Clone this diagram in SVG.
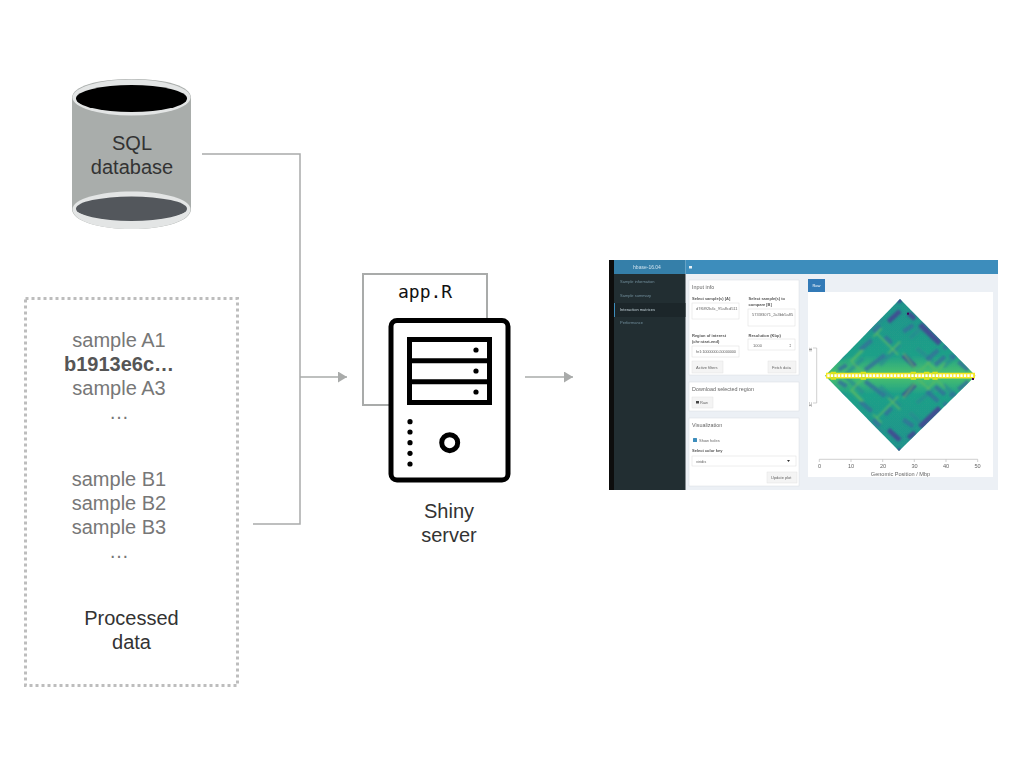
<svg xmlns="http://www.w3.org/2000/svg" width="1024" height="768" viewBox="0 0 1024 768">
<style>
.t{font-family:"Liberation Sans",Arial,sans-serif}
.c{text-anchor:middle}
.lab{font-size:20px;fill:#333}
.smp{font-size:20px;fill:#777;text-anchor:middle}
.conn{fill:none;stroke:#a9abaa;stroke-width:1.500}
.ink{fill:none;stroke:#000;stroke-width:5}
.dot{fill:#000}
.side{font-size:4px;fill:#72909c}
.ft{font-size:4px;fill:#666}
.fb{font-size:4px;fill:#555;font-weight:bold}
.h{font-size:5.400px;fill:#666}
.box{fill:#fff;stroke:#dcdcdc;stroke-width:.5}
.btn{fill:#f4f4f4;stroke:#e2e2e2;stroke-width:.5}
.panel{fill:#fff;stroke:#d8dce3;stroke-width:.5}
.tick{font-size:5.600px;fill:#666;text-anchor:middle}
.dk{fill:none;stroke:#3f4f92;stroke-width:14}
.md{fill:none;stroke:#33709a;stroke-width:13;opacity:.8}
.mt{fill:none;stroke:#2a8a92;stroke-width:12;opacity:.7}
.lt{fill:none;stroke:#5cbc62;stroke-width:5;opacity:.8}
</style>
<defs>
<marker id="arr" viewBox="0 0 9 11" refX="9" refY="5.500" markerWidth="9" markerHeight="11" markerUnits="userSpaceOnUse" orient="auto"><path d="M0 0L9 5.500L0 11Z" fill="#a9abaa"/></marker>
<filter id="soft" x="-2%" y="-2%" width="104%" height="104%"><feGaussianBlur stdDeviation="0.45"/></filter>
<filter id="hb" x="-5%" y="-5%" width="110%" height="110%"><feGaussianBlur stdDeviation="3.500"/></filter>
<clipPath id="dia"><polygon points="75,317 300,87 527,317 297,543"/></clipPath>
<linearGradient id="hg" x1="0" y1="0" x2="0" y2="1"><stop offset="0" stop-color="#20928c"/><stop offset=".38" stop-color="#1fa088"/><stop offset=".5" stop-color="#4ec36b"/><stop offset=".62" stop-color="#1fa088"/><stop offset="1" stop-color="#20928c"/></linearGradient>
<g id="half" filter="url(#hb)">
<g transform="translate(60 75)">
<path class="mt" d="M60 190L75 180M75 240L130 190M140 110L190 70M270 130L330 75M370 215L430 160M290 160L340 200M180 210L240 150M385 120L440 175"/>
<path class="md" d="M120 165L155 135M250 110L280 90M195 125L215 145M135 225L195 180M320 195L355 165M345 210L375 185M415 200L445 225M370 160L385 150M390 180L405 190M55 225L80 210M160 110L180 92"/>
<path class="dk" d="M205 80L240 48M265 55L285 72M250 180L285 215M232 20L245 12"/>
<path class="dk" style="stroke-width:17" d="M300 88L360 145"/>
<path class="lt" d="M205 175L240 140M170 115L235 180M90 195L135 240M95 200L130 165M290 235L330 200M320 200L355 235M210 155L195 140M160 125L185 100M345 235L375 205M125 165L95 195M285 220L250 175"/>
</g>
</g>
</defs>

<g id="connectors">
<path class="conn" d="M202 154H300V524H253"/>
<path class="conn" d="M300 377H347" marker-end="url(#arr)"/>
<path class="conn" d="M525 377H573" marker-end="url(#arr)"/>
</g>

<g id="sql-database">
<path d="M72 98V209C72 221 98 229 132 229S191 221 191 209V98C191 86 166 79 132 79S72 86 72 98Z" fill="#a9adab"/>
<ellipse cx="131.500" cy="97.500" rx="59" ry="18" fill="#e3e5e5"/>
<ellipse cx="131.500" cy="98.500" rx="55.500" ry="13.500" fill="#000"/>
<path d="M72.500 209C72.500 199 100 191.500 131.500 191.500S190.500 199 190.500 209C190.500 221 165 229 131.500 229S72.500 221 72.500 209Z" fill="#e3e5e5"/>
<ellipse cx="131.500" cy="208.700" rx="55.500" ry="12.200" fill="#53575c"/>
<text class="t lab c" x="132" y="150">SQL</text>
<text class="t lab c" x="132" y="174">database</text>
</g>

<g id="processed-data">
<rect x="25.500" y="298.500" width="212" height="387" fill="none" stroke="#bdbdbd" stroke-width="3" stroke-dasharray="3 3"/>
<text class="t smp" x="119" y="347">sample A1</text>
<text class="t smp" x="119" y="371" style="font-weight:bold;fill:#555">b1913e6c…</text>
<text class="t smp" x="119" y="395">sample A3</text>
<text class="t smp" x="119" y="419">…</text>
<text class="t smp" x="119" y="486">sample B1</text>
<text class="t smp" x="119" y="510">sample B2</text>
<text class="t smp" x="119" y="534">sample B3</text>
<text class="t smp" x="119" y="558">…</text>
<text class="t lab c" x="131.500" y="625">Processed</text>
<text class="t lab c" x="131.500" y="649">data</text>
</g>

<g id="shiny-server">
<rect x="363" y="274" width="124" height="131" fill="none" stroke="#a9abaa" stroke-width="2"/>
<text x="398" y="298" font-family="'DejaVu Sans Mono',monospace" font-size="18" fill="#111">app.R</text>
<rect x="391" y="320.500" width="117" height="159.500" rx="6" fill="#fff" stroke="#000" stroke-width="5"/>
<rect class="ink" x="409.500" y="339.500" width="80" height="63"/>
<path class="ink" d="M409.500 360.700H489.500M409.500 381.700H489.500"/>
<circle class="dot" cx="476" cy="350" r="2.600"/><circle class="dot" cx="476" cy="371" r="2.600"/><circle class="dot" cx="476" cy="392" r="2.600"/>
<circle class="dot" cx="410" cy="421.700" r="2.600"/><circle class="dot" cx="410" cy="432" r="2.600"/><circle class="dot" cx="410" cy="442.700" r="2.600"/><circle class="dot" cx="410" cy="453.300" r="2.600"/><circle class="dot" cx="410" cy="464" r="2.600"/>
<circle class="ink" cx="449.700" cy="442.700" r="8"/>
<text class="t lab c" x="449" y="518">Shiny</text>
<text class="t lab c" x="449" y="542">server</text>
</g>

<g id="app-screenshot" filter="url(#soft)">
<rect x="609" y="260" width="389" height="230" fill="#ecf0f5"/>
<rect x="609" y="260" width="5" height="230" fill="#111"/>
<rect x="614" y="274" width="71.500" height="216" fill="#222d32"/>
<rect x="614" y="260" width="71.500" height="14" fill="#367fa9"/>
<rect x="685.500" y="260" width="312.500" height="14" fill="#3c8dbc"/>
<text class="t c" x="647" y="269" font-size="5" fill="#cfe3ef">hbase-16.04</text>
<rect x="689" y="266" width="3" height="2.500" fill="#e6f0f6"/>
<rect x="614" y="303" width="71.500" height="14" fill="#1e282c"/>
<rect x="614" y="303" width="1" height="14" fill="#3c8dbc"/>
<text class="t side" x="620" y="283">Sample information</text>
<text class="t side" x="620" y="296.500">Sample summary</text>
<text class="t side" x="620" y="310.500" style="fill:#c0cfd6">Interaction matrices</text>
<text class="t side" x="620" y="323.500">Performance</text>

<rect class="panel" x="689" y="280" width="110" height="95"/>
<rect class="panel" x="689" y="382" width="110" height="29"/>
<rect class="panel" x="689" y="418" width="110" height="68"/>
<text class="t h" x="692" y="288.500">Input info</text>
<text class="t fb" x="692" y="300">Select sample(s) [A]</text>
<text class="t fb" x="748.500" y="300">Select sample(s) to</text>
<text class="t fb" x="748.500" y="305.500">compare [B]</text>
<rect class="box" x="692" y="303" width="47" height="16"/>
<text class="t ft" x="696" y="310">d7f6f92b4c_95a8cd511</text>
<rect class="box" x="748" y="309" width="47" height="17"/>
<text class="t ft" x="752" y="316">5733f3071_2a3bb5a85</text>
<text class="t fb" x="692" y="336.500">Region of interest</text>
<text class="t fb" x="692" y="343">(chr:start-end)</text>
<text class="t fb" x="748.500" y="336.500">Resolution (Kbp)</text>
<rect class="box" x="692" y="346" width="47" height="11"/>
<text class="t ft" x="696" y="353" textLength="40">hr1:10000000-50000000</text>
<rect class="box" x="748" y="339" width="47" height="11"/>
<text class="t ft" x="753" y="346.500">1000</text>
<text class="t ft" x="789" y="346.500">‡</text>
<rect class="btn" x="692" y="361" width="31" height="12"/>
<text class="t ft" x="696" y="368.500">Active filters</text>
<rect class="btn" x="768" y="361" width="28" height="12"/>
<text class="t ft" x="772" y="368.500">Fetch data</text>
<text class="t h" x="692" y="390.500">Download selected region</text>
<rect class="btn" x="692" y="397" width="21" height="11"/>
<text class="t ft" x="700" y="404">Raw</text>
<rect x="696" y="401" width="3" height="2.500" fill="#444"/>
<text class="t h" x="692" y="427">Visualization</text>
<rect x="693" y="438" width="4" height="4" rx=".5" fill="#3c8dbc"/>
<text class="t ft" x="699" y="441.500">Show holes</text>
<text class="t fb" x="692" y="451.500">Select color key</text>
<rect class="box" x="692" y="456" width="104" height="10"/>
<text class="t ft" x="696" y="462.500">viridis</text>
<path d="M787 460H790L788.500 462Z" fill="#333"/>
<rect class="btn" x="767" y="472" width="30" height="11"/>
<text class="t ft" x="771" y="479">Update plot</text>

<rect x="808" y="279" width="17" height="13" fill="#337ab7"/>
<text class="t c" x="816.500" y="287" font-size="4" fill="#fff">Raw</text>
<rect x="808" y="292" width="185" height="185" fill="#fff"/>

<g transform="translate(800 270) scale(.33333)">
<g clip-path="url(#dia)">
<rect x="70" y="80" width="465" height="470" fill="url(#hg)"/>
<use href="#half"/>
<use href="#half" transform="translate(0 634) scale(1 -1)"/>
</g>
<path d="M78 317H525" stroke="#f6e726" stroke-width="17" fill="none"/>
<path d="M100 305V329M190 305V329M340 305V329M380 305V329M405 305V329" stroke="#d8e21f" stroke-width="16" fill="none"/>
<path d="M82 317H520" stroke="#fff" stroke-width="8" fill="none" stroke-dasharray="7 3.500"/>
<rect x="321" y="128" width="6" height="6" fill="#440154"/>
<rect x="516" y="324" width="6" height="6" fill="#440154"/>
</g>

<path d="M819.300 459.300H977.700M819.300 459.300V462M851 459.300V462M882.700 459.300V462M914.300 459.300V462M946 459.300V462M977.700 459.300V462" fill="none" stroke="#bbb" stroke-width=".7"/>
<text class="t tick" x="819.500" y="467.500">0</text>
<text class="t tick" x="851" y="467.500">10</text>
<text class="t tick" x="883" y="467.500">20</text>
<text class="t tick" x="914.500" y="467.500">30</text>
<text class="t tick" x="946" y="467.500">40</text>
<text class="t tick" x="977.500" y="467.500">50</text>
<text class="t tick" x="900.500" y="475.500">Genomic Position / Mbp</text>
<path d="M813 348H816.700V403H813" fill="none" stroke="#bbb" stroke-width=".7"/>
<text class="t" font-size="4" fill="#666" transform="translate(812 349.500) rotate(-90)" text-anchor="middle">IE</text>
<text class="t" font-size="4" fill="#666" transform="translate(812 404.500) rotate(-90)" text-anchor="middle">JC</text>
</g>
</svg>
